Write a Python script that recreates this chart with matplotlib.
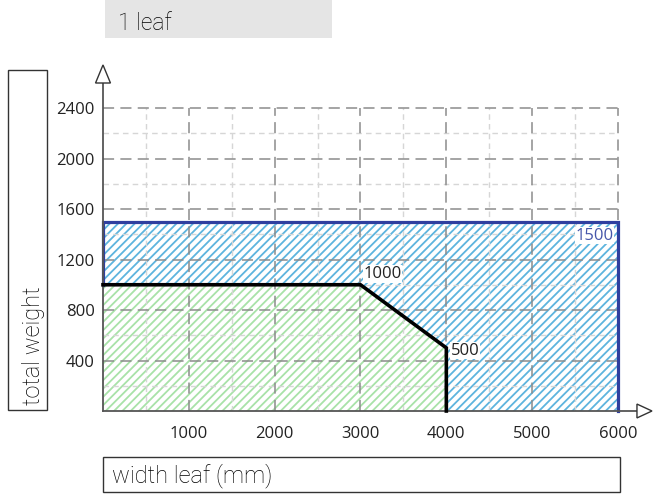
import matplotlib
matplotlib.use('Agg')
import matplotlib.pyplot as plt
from matplotlib.patches import Polygon, Rectangle
import numpy as np

plt.rcParams['font.family'] = ['Open Sans', 'DejaVu Sans']
plt.rcParams['hatch.linewidth'] = 1.3
plt.rcParams['lines.scale_dashes'] = False

# leaf width (mm) against total weight (kg)
max_width = 6000
max_weight = 1500
limit_x = [0, 3000, 4000, 4000]
limit_y = [1000, 1000, 500, 0]
limit_labels = ["1000", "500"]
x_ticks = [1000, 2000, 3000, 4000, 5000, 6000]
y_ticks = [400, 800, 1200, 1600, 2000, 2400]

W, H = 653, 494
fig = plt.figure(figsize=(W / 100, H / 100), dpi=100)
xpx = 0.085833   # pixels per mm
ypx = 0.12625    # pixels per kg
ax = fig.add_axes([103 / W, 83 / H, 6450 * xpx / W, 2750 * ypx / H])
ax.set_xlim(0, 6450)
ax.set_ylim(0, 2750)
for s in ax.spines.values():
    s.set_visible(False)

ax.set_xticks(x_ticks)
ax.set_yticks(y_ticks)
ax.tick_params(length=0, labelsize=12, labelcolor='#222222')
ax.tick_params(axis='x', pad=11)
ax.tick_params(axis='y', pad=6)

# hatched areas
blue_pts = [(0, limit_y[0])] + list(zip(limit_x, limit_y)) + \
    [(max_width, 0), (max_width, max_weight), (0, max_weight)]
green_pts = [(0, 0)] + list(zip(limit_x, limit_y))
ax.add_patch(Polygon(blue_pts, facecolor='none', edgecolor='#5db4de', hatch='////', lw=0, zorder=1))
ax.add_patch(Polygon(green_pts, facecolor='none', edgecolor='#a8e2a8', hatch='////', lw=0, zorder=1))

# grid
top = y_ticks[-1]
x_minor = np.array(x_ticks) - 500
y_minor = np.array(y_ticks) - 200
ax.hlines(y_minor, 0, max_width, colors='#d6d6d6', lw=1, linestyles=(0, (4, 3)), zorder=2)
ax.vlines(x_minor, 0, top, colors='#d6d6d6', lw=1, linestyles=(0, (4, 3)), zorder=2)
ax.hlines(y_ticks, 0, max_width, colors='#8c8c8c', lw=1.1, linestyles=(0, (8, 4.5)), zorder=2)
ax.vlines(x_ticks, 0, top, colors='#8c8c8c', lw=1.1, linestyles=(0, (8, 4.5)), zorder=2)

# outlines
ax.plot([0, 0, max_width, max_width], [limit_y[0], max_weight, max_weight, 0],
        color='#2f3f9f', lw=2.3, solid_joinstyle='miter', zorder=3, clip_on=False)
ax.plot(limit_x, limit_y, color='black', lw=2.6, solid_joinstyle='miter', zorder=4, clip_on=False)

# axes with open arrow heads
ax.plot([0, 0], [0, 2598], color='#555555', lw=1.3, zorder=3, clip_on=False)
ax.plot([0, 6221], [0, 0], color='#555555', lw=1.3, zorder=3, clip_on=False)
ax.add_patch(Polygon([(-87, 2598), (87, 2598), (0, 2741)], closed=True,
                     facecolor='white', edgecolor='#333333', lw=1, zorder=5, clip_on=False))
ax.add_patch(Polygon([(6221, -55), (6221, 55), (6396, 0)], closed=True,
                     facecolor='white', edgecolor='#333333', lw=1, zorder=5, clip_on=False))

# value labels
box = dict(facecolor='white', edgecolor='none', pad=0.5)
ax.annotate(limit_labels[0], (limit_x[1], limit_y[1]), xytext=(2, 2), textcoords='offset points',
            ha='left', va='bottom', fontsize=12, color='#222222', bbox=box, zorder=6)
ax.annotate(limit_labels[1], (limit_x[2], limit_y[2]), xytext=(3, -2), textcoords='offset points',
            ha='left', va='center', fontsize=12, color='#222222', bbox=box, zorder=6)
ax.annotate(str(max_weight), (max_width, max_weight), xytext=(-3, -10), textcoords='offset points',
            ha='right', va='center', fontsize=12, color='#4656aa', bbox=box, zorder=6)

# title and axis name boxes
def fig_box(x0, y0, x1, y1, fc, ec):
    fig.add_artist(Rectangle((x0 / W, 1 - y1 / H), (x1 - x0) / W, (y1 - y0) / H,
                             transform=fig.transFigure, facecolor=fc, edgecolor=ec, lw=1))

lab_font = ['Roboto', 'DejaVu Sans']
fig_box(105, 0, 332, 38, '#e5e5e5', 'none')
fig.text(118 / W, 1 - 30 / H, "1 leaf", fontsize=16.5, family=lab_font, weight='light',
         color='black', va='baseline', ha='left')

fig_box(8, 70, 47, 410, 'white', '#333333')
fig.text(40 / W, 1 - 405 / H, "total weight", fontsize=17, family=lab_font, weight='light',
         color='black', rotation=90, rotation_mode='anchor', va='baseline', ha='left')

fig_box(103, 457, 620, 492, 'white', '#333333')
fig.text(112 / W, 1 - 482 / H, "width leaf (mm)", fontsize=17, family=lab_font, weight='light',
         color='black', va='baseline', ha='left')

plt.savefig("out.png", dpi=100)
